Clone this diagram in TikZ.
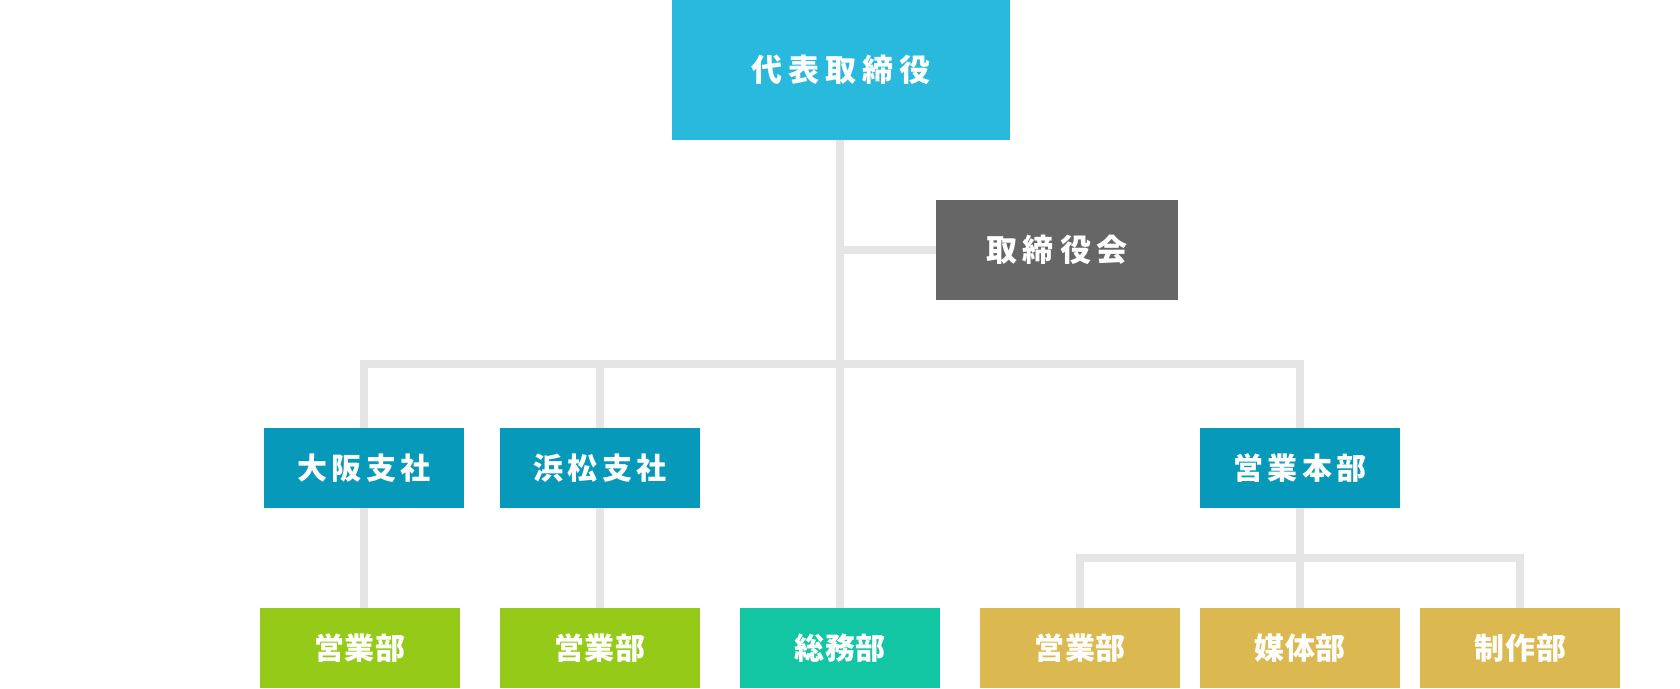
\documentclass[tikz,border=0pt]{standalone}
\usepackage{fontspec}
\newfontfamily\jp{Noto Sans CJK JP}
\newlength\lsp
\newcommand\sk{\kern\lsp}
\definecolor{topc}{HTML}{28B9DC}
\definecolor{boardc}{HTML}{666666}
\definecolor{branchc}{HTML}{0699BA}
\definecolor{greenc}{HTML}{96CA18}
\definecolor{tealc}{HTML}{12C5A3}
\definecolor{goldc}{HTML}{DCB950}
\definecolor{linec}{HTML}{E5E5E5}
\tikzset{
  box/.style={rectangle, inner sep=0pt, text=white, font=\jp\bfseries\fontsize{30}{32}\selectfont},
  topbox/.style={box, fill=topc, minimum width=338pt, minimum height=140pt, font=\jp\bfseries\fontsize{31}{33}\selectfont, execute at begin node={\setlength\lsp{6pt}}},
  boardbox/.style={box, fill=boardc, minimum width=242pt, minimum height=100pt, font=\jp\bfseries\fontsize{31}{33}\selectfont, execute at begin node={\setlength\lsp{6pt}}},
  branchbox/.style={box, fill=branchc, minimum width=200pt, minimum height=80pt, execute at begin node={\setlength\lsp{4.5pt}}},
  deptbox/.style={box, minimum width=200pt, minimum height=80pt, execute at begin node={\setlength\lsp{1pt}}},
  conn/.style={draw=linec, line width=8pt, line join=miter}
}
\begin{document}
\begin{tikzpicture}[x=1pt, y=-1pt]
\useasboundingbox (0,0) rectangle (1680,688);
\node[topbox] (ceo) at (841,70) {代\sk 表\sk 取\sk 締\sk 役};
\node[boardbox] (board) at (1057,250) {取\sk 締\sk 役\sk 会};
\node[branchbox] (osaka) at (364,468) {大\sk 阪\sk 支\sk 社};
\node[branchbox] (hama) at (600,468) {浜\sk 松\sk 支\sk 社};
\node[branchbox] (hq) at (1300,468) {営\sk 業\sk 本\sk 部};
\node[deptbox, fill=greenc] (os1) at (360,648) {営\sk 業\sk 部};
\node[deptbox, fill=greenc] (hm1) at (600,648) {営\sk 業\sk 部};
\node[deptbox, fill=tealc] (soumu) at (840,648) {総\sk 務\sk 部};
\node[deptbox, fill=goldc] (sales) at (1080,648) {営\sk 業\sk 部};
\node[deptbox, fill=goldc] (media) at (1300,648) {媒\sk 体\sk 部};
\node[deptbox, fill=goldc] (prod) at (1520,648) {制\sk 作\sk 部};
\coordinate (bus) at (0,364);
\coordinate (bus2) at (0,558);
\draw[conn] (soumu.north |- ceo.south) -- (soumu.north);
\draw[conn] (soumu.north |- board.west) -- (board.west);
\draw[conn] (osaka.north) -- (osaka.north |- bus) -- (hq.north |- bus) -- (hq.north);
\draw[conn] (hama.north) -- (hama.north |- bus);
\draw[conn] (osaka.south) -- (osaka.south |- os1.north);
\draw[conn] (hama.south) -- (hm1.north);
\draw[conn] (hq.south) -- (media.north);
\draw[conn] (sales.north) -- (sales.north |- bus2) -- (prod.north |- bus2) -- (prod.north);
\end{tikzpicture}
\end{document}
